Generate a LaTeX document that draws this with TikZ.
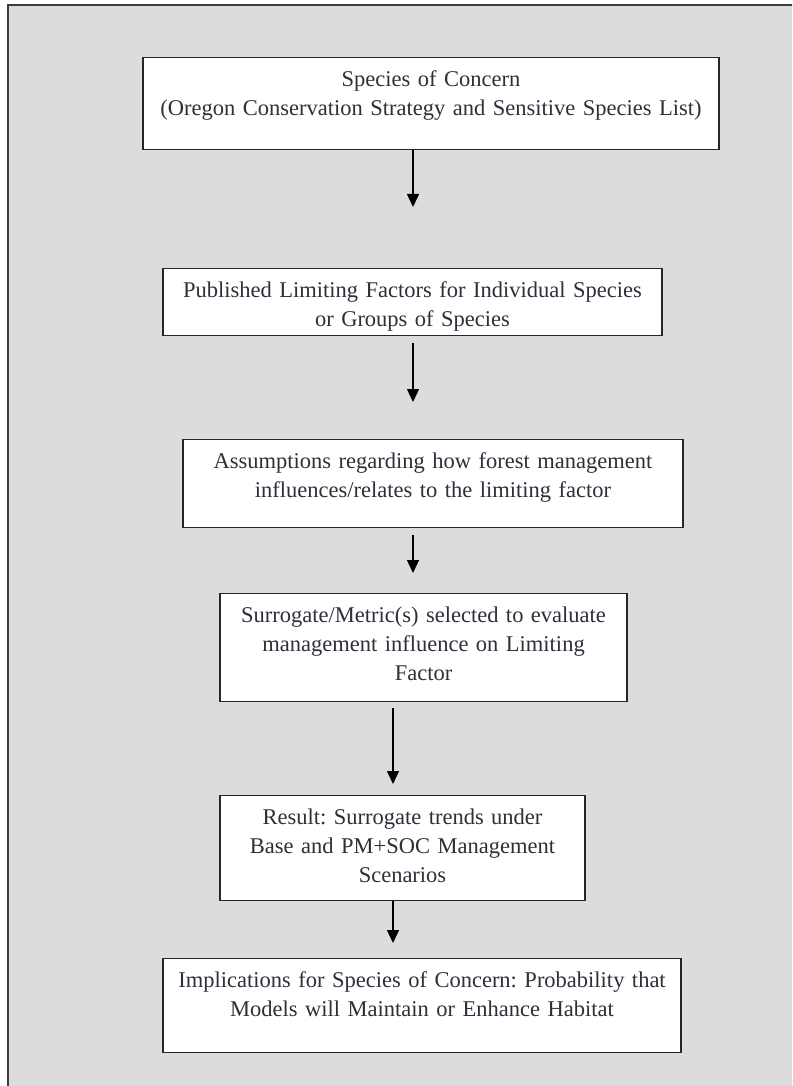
\documentclass[tikz,border=0pt]{standalone}
\usepackage{fontspec}
\setmainfont{Liberation Serif}
\frenchspacing
\usepackage{tikz}
\usetikzlibrary{arrows.meta}
\usepackage{xcolor}
\definecolor{pagegray}{RGB}{220,220,220}
\definecolor{framegray}{RGB}{60,60,60}
\definecolor{inkgray}{RGB}{48,46,58}
\tikzstyle{process} = [rectangle, anchor=north, draw=black!85, fill=white, line width=1.4pt, align=center, inner xsep=0pt, inner ysep=13pt, text height=16pt, text=inkgray, font=\fontsize{22.5}{29}\selectfont]
\tikzstyle{arrow} = [line width=1.3pt, -{Triangle[width=12pt,length=13pt]}, color=black]

\begin{document}
\begin{tikzpicture}[x=1pt, y=-1pt]
\useasboundingbox (0,0) rectangle (792,1086);
\clip (0,0) rectangle (792,1086);
% gray page frame
\draw [fill=pagegray, draw=framegray, line width=1.4pt] (8,5) rectangle (810,1100);

\node (species) [process, text width=576pt, text depth=50pt] at (431,57)
  {Species of Concern\\(Oregon Conservation Strategy and Sensitive Species List)};
\node (factors) [process, text width=499pt, text depth=25pt] at (412.5,268)
  {Published Limiting Factors for Individual Species\\or Groups of Species};
\node (assume) [process, text width=500pt, text depth=46pt] at (433,439)
  {Assumptions regarding how forest management\\influences/relates to the limiting factor};
\node (surrogate) [process, text width=407pt, text depth=66pt] at (423.5,593)
  {Surrogate/Metric(s) selected to evaluate\\management influence on Limiting\\Factor};
\node (result) [process, text width=365pt, text depth=63pt] at (402.5,795)
  {Result: Surrogate trends under\\Base and PM+SOC Management\\Scenarios};
\node (implic) [process, text width=518pt, text depth=52pt] at (422,958)
  {Implications for Species of Concern: Probability that\\Models will Maintain or Enhance Habitat};

% arrow tips stop short of the next box
\coordinate (tip1) at (413,207);
\coordinate (tip2) at (413,402);
\coordinate (tip3) at (413,573);
\coordinate (tip4) at (393,784);
\coordinate (tip5) at (393,943);
\draw [arrow] (species.south -| tip1) -- (tip1);
\draw [arrow, shorten <=7pt] (factors.south -| tip2) -- (tip2);
\draw [arrow, shorten <=7pt] (assume.south -| tip3) -- (tip3);
\draw [arrow, shorten <=6pt] (surrogate.south -| tip4) -- (tip4);
\draw [arrow] (result.south -| tip5) -- (tip5);
\end{tikzpicture}
\end{document}
